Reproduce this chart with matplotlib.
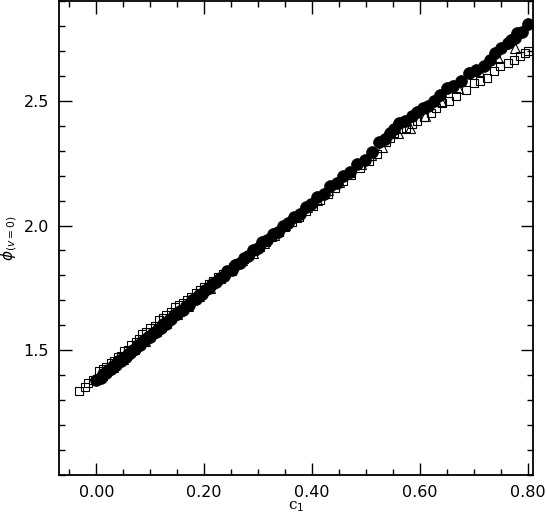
import matplotlib
matplotlib.use("Agg")
import matplotlib.pyplot as plt
from matplotlib.ticker import MultipleLocator, FormatStrFormatter

# ---- data ----
circ_c = [0.000, 0.008, 0.012, 0.018, 0.022, 0.027, 0.031, 0.036, 0.040, 0.045,
          0.049, 0.054, 0.058, 0.063, 0.068, 0.072, 0.077, 0.081, 0.086, 0.091,
          0.095, 0.100, 0.105, 0.110, 0.114, 0.119, 0.124, 0.129, 0.134, 0.139,
          0.144, 0.150, 0.155, 0.161, 0.166, 0.172, 0.178, 0.184, 0.190, 0.196,
          0.202, 0.209, 0.215, 0.222, 0.229, 0.236, 0.243, 0.251, 0.258, 0.266,
          0.274, 0.282, 0.291, 0.300, 0.308, 0.317, 0.327, 0.336, 0.346, 0.356,
          0.366, 0.377, 0.388, 0.399, 0.410, 0.422, 0.434, 0.446, 0.458, 0.471,
          0.484, 0.498, 0.512, 0.525, 0.535, 0.544, 0.553, 0.562, 0.573, 0.585,
          0.595, 0.605, 0.615, 0.627, 0.638, 0.650, 0.662, 0.677, 0.692, 0.705,
          0.720, 0.730, 0.739, 0.750, 0.763, 0.770, 0.776, 0.780, 0.790, 0.800]
circ_phi = [1.382, 1.390, 1.405, 1.409, 1.422, 1.425, 1.438, 1.441, 1.455, 1.457,
            1.470, 1.473, 1.486, 1.489, 1.503, 1.505, 1.520, 1.521, 1.536, 1.540,
            1.552, 1.555, 1.570, 1.574, 1.586, 1.589, 1.604, 1.607, 1.622, 1.625,
            1.640, 1.644, 1.659, 1.663, 1.679, 1.683, 1.700, 1.704, 1.722, 1.726,
            1.743, 1.749, 1.767, 1.772, 1.791, 1.797, 1.817, 1.823, 1.843, 1.850,
            1.871, 1.878, 1.902, 1.910, 1.932, 1.940, 1.966, 1.974, 2.000, 2.010,
            2.036, 2.047, 2.075, 2.086, 2.114, 2.127, 2.157, 2.170, 2.200, 2.214,
            2.246, 2.262, 2.296, 2.335, 2.345, 2.370, 2.385, 2.410, 2.420, 2.440,
            2.455, 2.470, 2.480, 2.500, 2.525, 2.550, 2.560, 2.580, 2.610, 2.625,
            2.640, 2.665, 2.690, 2.710, 2.730, 2.745, 2.750, 2.770, 2.775, 2.808]

sq_c = [-0.032, -0.022, -0.016, -0.007, 0.005, 0.012, 0.018, 0.027, 0.033, 0.040,
        0.046, 0.052, 0.058, 0.065, 0.074, 0.079, 0.085, 0.092, 0.100, 0.108,
        0.117, 0.123, 0.130, 0.138, 0.145, 0.153, 0.160, 0.168, 0.176, 0.184,
        0.192, 0.200, 0.208, 0.217, 0.226, 0.235, 0.244, 0.253, 0.263, 0.273,
        0.283, 0.293, 0.304, 0.315, 0.326, 0.338, 0.350, 0.362, 0.375, 0.388,
        0.401, 0.415, 0.429, 0.443, 0.458, 0.473, 0.489, 0.505, 0.521, 0.538,
        0.545, 0.553, 0.565, 0.575, 0.585, 0.594, 0.607, 0.620, 0.630, 0.642,
        0.655, 0.668, 0.685, 0.700, 0.712, 0.724, 0.737, 0.748, 0.763, 0.775,
        0.785, 0.795, 0.800]
sq_phi = [1.335, 1.352, 1.368, 1.382, 1.418, 1.425, 1.432, 1.450, 1.458, 1.472,
          1.478, 1.498, 1.502, 1.520, 1.533, 1.545, 1.565, 1.572, 1.590, 1.598,
          1.620, 1.628, 1.642, 1.655, 1.675, 1.680, 1.691, 1.703, 1.715, 1.728,
          1.740, 1.752, 1.764, 1.778, 1.792, 1.806, 1.820, 1.834, 1.850, 1.866,
          1.882, 1.898, 1.915, 1.934, 1.952, 1.973, 1.993, 2.013, 2.036, 2.058,
          2.080, 2.104, 2.128, 2.152, 2.177, 2.203, 2.230, 2.259, 2.286, 2.335,
          2.350, 2.370, 2.385, 2.390, 2.405, 2.420, 2.435, 2.450, 2.470, 2.490,
          2.500, 2.520, 2.545, 2.570, 2.580, 2.590, 2.620, 2.640, 2.650, 2.665,
          2.680, 2.690, 2.700]

tri_c = [0.010, 0.030, 0.050, 0.070, 0.090, 0.110, 0.130, 0.150, 0.170, 0.190,
         0.210, 0.230, 0.250, 0.270, 0.290, 0.310, 0.330, 0.350, 0.370, 0.390,
         0.410, 0.430, 0.450, 0.470, 0.490, 0.510, 0.530, 0.560, 0.581, 0.610,
         0.640, 0.670, 0.710, 0.745, 0.776]
tri_phi = [1.400, 1.434, 1.466, 1.505, 1.538, 1.576, 1.608, 1.647, 1.678, 1.718,
           1.750, 1.790, 1.821, 1.860, 1.891, 1.931, 1.962, 2.002, 2.033, 2.073,
           2.104, 2.143, 2.174, 2.214, 2.245, 2.284, 2.316, 2.372, 2.390, 2.440,
           2.500, 2.550, 2.620, 2.670, 2.710]

xticks = [0.00, 0.20, 0.40, 0.60, 0.80]
yticks = [1.5, 2.0, 2.5]

# ---- figure ----
fig = plt.figure(figsize=(5.46, 5.19), dpi=100)
ax = fig.add_axes([0.1075, 0.0848, 0.8687, 0.9133])

ax.plot(sq_c, sq_phi, ls='none', marker='s', ms=6.3, mfc='none', mec='black', mew=0.8)
ax.plot(tri_c, tri_phi, ls='none', marker='^', ms=6.8, mfc='none', mec='black', mew=0.8)
ax.plot(circ_c, circ_phi, ls='none', marker='o', ms=8.5, mfc='black', mec='black', mew=0.5)

ax.set_xlim(-0.07, 0.81)
ax.set_ylim(1.0, 2.9)

ax.set_xticks(xticks)
ax.set_yticks(yticks)
ax.xaxis.set_major_formatter(FormatStrFormatter('%.2f'))
ax.yaxis.set_major_formatter(FormatStrFormatter('%.1f'))
ax.xaxis.set_minor_locator(MultipleLocator(0.05))
ax.yaxis.set_minor_locator(MultipleLocator(0.1))

ax.tick_params(which='both', direction='in', top=True, right=True, width=1.0,
               labelsize=11.5, pad=7)
ax.tick_params(which='major', length=9)
ax.tick_params(which='minor', length=4.5)
for s in ax.spines.values():
    s.set_linewidth(1.3)

ax.set_xlabel(r'c$_1$', fontsize=11, family='DejaVu Serif', labelpad=0)
ax.set_ylabel(r'$\phi_{(v=0)}$', fontsize=11, labelpad=3)

fig.savefig('out.png', dpi=100)
